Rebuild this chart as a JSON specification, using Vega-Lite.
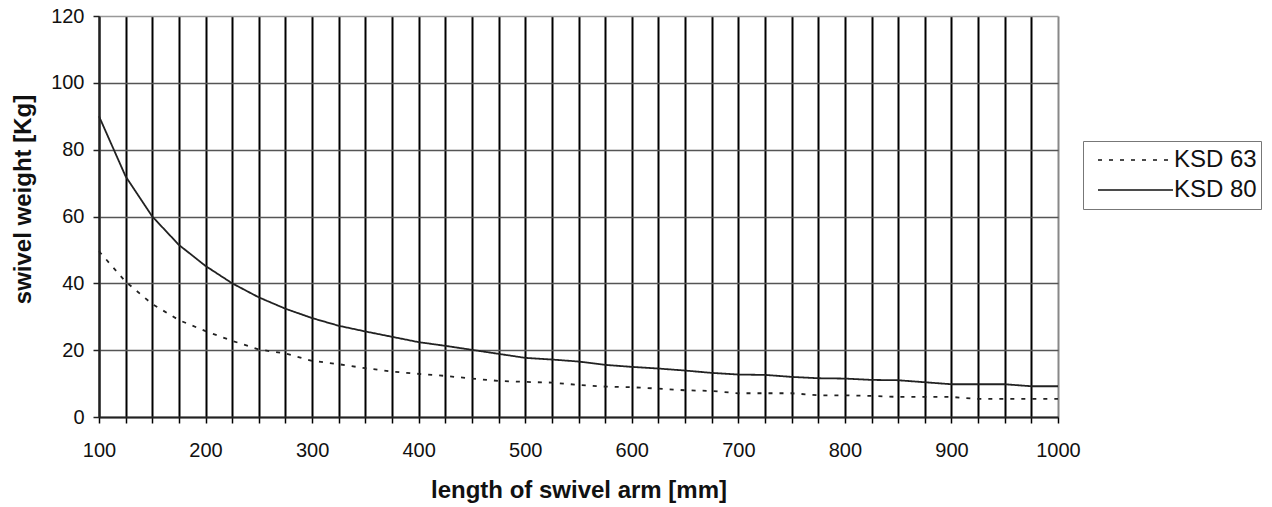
{
  "$schema": "https://vega.github.io/schema/vega-lite/v6.json",
  "width": 959,
  "height": 401,
  "autosize": "none",
  "padding": {"left": 99, "top": 16, "right": 214, "bottom": 90},
  "background": "white",
  "config": {"view": {"stroke": null}, "font": "Liberation Sans"},
  "data": {"values": [
    {"arm": 100, "series": "KSD 80", "weight": 90},
    {"arm": 125, "series": "KSD 80", "weight": 72},
    {"arm": 150, "series": "KSD 80", "weight": 60},
    {"arm": 175, "series": "KSD 80", "weight": 51.5},
    {"arm": 200, "series": "KSD 80", "weight": 45.2},
    {"arm": 225, "series": "KSD 80", "weight": 40},
    {"arm": 250, "series": "KSD 80", "weight": 35.8},
    {"arm": 275, "series": "KSD 80", "weight": 32.4},
    {"arm": 300, "series": "KSD 80", "weight": 29.6},
    {"arm": 325, "series": "KSD 80", "weight": 27.3},
    {"arm": 350, "series": "KSD 80", "weight": 25.6},
    {"arm": 375, "series": "KSD 80", "weight": 24.0},
    {"arm": 400, "series": "KSD 80", "weight": 22.4},
    {"arm": 425, "series": "KSD 80", "weight": 21.3},
    {"arm": 450, "series": "KSD 80", "weight": 20.1},
    {"arm": 475, "series": "KSD 80", "weight": 18.9},
    {"arm": 500, "series": "KSD 80", "weight": 17.7},
    {"arm": 525, "series": "KSD 80", "weight": 17.2},
    {"arm": 550, "series": "KSD 80", "weight": 16.6},
    {"arm": 575, "series": "KSD 80", "weight": 15.6},
    {"arm": 600, "series": "KSD 80", "weight": 15.0},
    {"arm": 625, "series": "KSD 80", "weight": 14.5},
    {"arm": 650, "series": "KSD 80", "weight": 13.9},
    {"arm": 675, "series": "KSD 80", "weight": 13.2},
    {"arm": 700, "series": "KSD 80", "weight": 12.7},
    {"arm": 725, "series": "KSD 80", "weight": 12.6},
    {"arm": 750, "series": "KSD 80", "weight": 12.0},
    {"arm": 775, "series": "KSD 80", "weight": 11.6},
    {"arm": 800, "series": "KSD 80", "weight": 11.5},
    {"arm": 825, "series": "KSD 80", "weight": 11.1},
    {"arm": 850, "series": "KSD 80", "weight": 11.0},
    {"arm": 875, "series": "KSD 80", "weight": 10.4},
    {"arm": 900, "series": "KSD 80", "weight": 9.8},
    {"arm": 925, "series": "KSD 80", "weight": 9.8},
    {"arm": 950, "series": "KSD 80", "weight": 9.8},
    {"arm": 975, "series": "KSD 80", "weight": 9.2},
    {"arm": 1000, "series": "KSD 80", "weight": 9.2},
    {"arm": 100, "series": "KSD 63", "weight": 49.6},
    {"arm": 125, "series": "KSD 63", "weight": 40.5},
    {"arm": 150, "series": "KSD 63", "weight": 33.8},
    {"arm": 175, "series": "KSD 63", "weight": 29.0},
    {"arm": 200, "series": "KSD 63", "weight": 25.7},
    {"arm": 225, "series": "KSD 63", "weight": 22.8},
    {"arm": 250, "series": "KSD 63", "weight": 20.2},
    {"arm": 275, "series": "KSD 63", "weight": 19.0},
    {"arm": 300, "series": "KSD 63", "weight": 16.8},
    {"arm": 325, "series": "KSD 63", "weight": 15.8},
    {"arm": 350, "series": "KSD 63", "weight": 14.6},
    {"arm": 375, "series": "KSD 63", "weight": 13.6},
    {"arm": 400, "series": "KSD 63", "weight": 12.9},
    {"arm": 425, "series": "KSD 63", "weight": 12.3},
    {"arm": 450, "series": "KSD 63", "weight": 11.5},
    {"arm": 475, "series": "KSD 63", "weight": 10.8},
    {"arm": 500, "series": "KSD 63", "weight": 10.5},
    {"arm": 525, "series": "KSD 63", "weight": 10.3},
    {"arm": 550, "series": "KSD 63", "weight": 9.6},
    {"arm": 575, "series": "KSD 63", "weight": 9.1},
    {"arm": 600, "series": "KSD 63", "weight": 8.9},
    {"arm": 625, "series": "KSD 63", "weight": 8.5},
    {"arm": 650, "series": "KSD 63", "weight": 8.0},
    {"arm": 675, "series": "KSD 63", "weight": 7.8},
    {"arm": 700, "series": "KSD 63", "weight": 7.1},
    {"arm": 725, "series": "KSD 63", "weight": 7.1},
    {"arm": 750, "series": "KSD 63", "weight": 7.1},
    {"arm": 775, "series": "KSD 63", "weight": 6.5},
    {"arm": 800, "series": "KSD 63", "weight": 6.5},
    {"arm": 825, "series": "KSD 63", "weight": 6.3},
    {"arm": 850, "series": "KSD 63", "weight": 6.0},
    {"arm": 875, "series": "KSD 63", "weight": 6.0},
    {"arm": 900, "series": "KSD 63", "weight": 6.0},
    {"arm": 925, "series": "KSD 63", "weight": 5.4},
    {"arm": 950, "series": "KSD 63", "weight": 5.4},
    {"arm": 975, "series": "KSD 63", "weight": 5.4},
    {"arm": 1000, "series": "KSD 63", "weight": 5.4}
  ]},
  "mark": {"type": "line", "color": "#222", "strokeWidth": 1.8},
  "encoding": {
    "x": {
      "field": "arm", "type": "quantitative",
      "scale": {"domain": [100, 1000], "nice": false, "zero": false},
      "axis": {
        "values": [100,125,150,175,200,225,250,275,300,325,350,375,400,425,450,475,500,525,550,575,600,625,650,675,700,725,750,775,800,825,850,875,900,925,950,975,1000],
        "format": "d",
        "labelExpr": "datum.value % 100 === 0 ? datum.label : ''",
        "title": "length of swivel arm [mm]",
        "grid": true,
        "gridColor": {"condition": {"test": "datum.value === 1000", "value": "#888"}, "value": "#000"},
        "gridWidth": 2,
        "gridOpacity": 1,
        "tickColor": "#000", "tickSize": 6, "tickWidth": 1.5,
        "domainColor": "#222", "domainWidth": 2,
        "labelFontSize": 20, "labelColor": "#111", "labelPadding": 17,
        "labelFlush": false, "labelOverlap": false,
        "titleFontSize": 24, "titleFontWeight": "bold", "titleColor": "#111", "titlePadding": 18
      }
    },
    "y": {
      "field": "weight", "type": "quantitative",
      "scale": {"domain": [0, 120], "nice": false},
      "axis": {
        "values": [0,20,40,60,80,100,120],
        "format": "d",
        "title": "swivel weight [Kg]",
        "grid": true,
        "gridColor": {"condition": {"test": "datum.value === 120", "value": "#999"}, "value": "#555"},
        "gridWidth": 1.5,
        "gridOpacity": 1,
        "tickColor": "#222", "tickSize": 6, "tickWidth": 1.5,
        "domainColor": "#222", "domainWidth": 2,
        "labelFontSize": 20, "labelColor": "#111", "labelPadding": 9,
        "titleFontSize": 24, "titleFontWeight": "bold", "titleColor": "#111",
        "titleX": -64, "titleY": 183
      }
    },
    "strokeDash": {
      "field": "series", "type": "nominal",
      "scale": {"domain": ["KSD 63", "KSD 80"], "range": [[4, 7], [1, 0]]},
      "legend": {
        "orient": "none", "legendX": 984, "legendY": 125,
        "title": null,
        "symbolType": "stroke", "symbolSize": 5625, "symbolStrokeWidth": 1.5,
        "symbolStrokeColor": "#111",
        "labelFontSize": 24, "labelColor": "#111",
        "strokeColor": "#777", "fillColor": "white",
        "clipHeight": 30,
        "padding": 4, "rowPadding": 0, "symbolOffset": 10, "labelOffset": 0
      }
    }
  }
}
